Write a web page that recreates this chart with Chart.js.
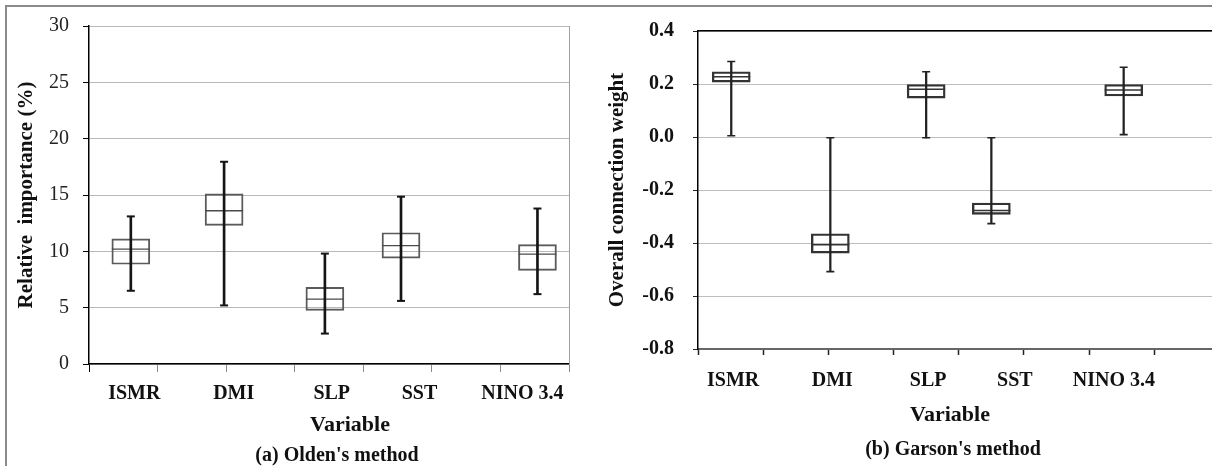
<!DOCTYPE html>
<html>
<head>
<meta charset="utf-8">
<script src="https://cdn.jsdelivr.net/npm/chart.js@4/dist/chart.umd.min.js"></script>
<style>
  html, body { margin:0; padding:0; width:1212px; height:466px; overflow:hidden; background:#fff; }
  #frame { position:absolute; left:5px; top:5px; width:1400px; height:600px;
           border-left:2px solid #8a8a8a; border-top:2px solid #8a8a8a; }
  #c1 { position:absolute; left:0; top:0; }
  #c2 { position:absolute; left:600px; top:0; }
  .t { position:absolute; font-family:'Liberation Serif','Times New Roman',serif; font-weight:bold;
       color:#111; white-space:nowrap; transform:translateX(-50%); line-height:1; }
</style>
</head>
<body>
<div id="frame"></div>
<canvas id="c1" width="600" height="466"></canvas>
<canvas id="c2" width="640" height="466"></canvas>
<div class="t" style="left:350px; top:413px; font-size:22px;">Variable</div>
<div class="t" style="left:337px; top:444px; font-size:20px;">(a) Olden's method</div>
<div class="t" style="left:950px; top:403px; font-size:22px;">Variable</div>
<div class="t" style="left:953px; top:438px; font-size:20px;">(b) Garson's method</div>
<script>
// ---------------- data ----------------
const categories = ['ISMR', 'DMI', 'SLP', 'SST', 'NINO 3.4'];

// (a) Olden's method: relative importance (%)
const oldenMin    = [6.5, 5.2, 2.7, 5.6, 6.2];
const oldenQ1     = [8.85, 12.3, 4.75, 9.4, 8.3];
const oldenMedian = [10.2, 13.6, 5.75, 10.5, 9.75];
const oldenQ3     = [11.1, 15.1, 6.8, 11.65, 10.6];
const oldenMax    = [13.1, 17.95, 9.8, 14.85, 13.8];
const oldenSlot      = [0.61, 1.97, 3.44, 4.55, 6.54];   // box location on the variable axis
const oldenLabelSlot = [0.66, 2.11, 3.54, 4.82, 6.32];   // label location on the variable axis
const oldenTicks = [0, 5, 10, 15, 20, 25, 30];

// (b) Garson's method: overall connection weight
const garsonMin    = [0.005, -0.508, -0.003, -0.327, 0.009];
const garsonQ1     = [0.207, -0.438, 0.147, -0.292, 0.155];
const garsonMedian = [0.227, -0.407, 0.180, -0.277, 0.177];
const garsonQ3     = [0.246, -0.365, 0.198, -0.249, 0.198];
const garsonMax    = [0.285, -0.003, 0.246, -0.003, 0.263];
const garsonSlot      = [0.51, 2.03, 3.50, 4.50, 6.53];
const garsonLabelSlot = [0.54, 2.06, 3.53, 4.86, 6.38];
const garsonTicks = [-0.8, -0.6, -0.4, -0.2, 0.0, 0.2, 0.4];

const slotTicks = [0, 1, 2, 3, 4, 5, 6, 7, 8];

Chart.defaults.font.family = "'Liberation Serif', 'Times New Roman', serif";
Chart.defaults.color = '#111';

function boxDatasets(slot, mn, q1, med, q3, mx, st) {
  return [
    { type:'bar', label:'box', order:3, grouped:false, barThickness:st.boxW,
      data: slot.map((x, i) => ({ x, y:[q1[i], q3[i]] })),
      backgroundColor:'rgba(0,0,0,0)', borderColor:st.boxColor, borderWidth:st.boxLW, borderSkipped:false,
      xAxisID:'x', yAxisID:'y' },
    { type:'bar', label:'whisker', order:1, grouped:false, barThickness:st.whiskW,
      data: slot.map((x, i) => ({ x, y:[mn[i], mx[i]] })),
      backgroundColor:st.whiskColor, borderWidth:0, xAxisID:'x', yAxisID:'y' },
    { type:'scatter', label:'caps', order:0, showLine:false,
      data: slot.map((x, i) => ({ x, y:mx[i] })).concat(slot.map((x, i) => ({ x, y:mn[i] }))),
      pointStyle:'line', pointRadius:st.capR, pointHoverRadius:st.capR,
      borderColor:st.whiskColor, borderWidth:st.capLW, xAxisID:'x', yAxisID:'y' },
    { type:'scatter', label:'median', order:2, showLine:false,
      data: slot.map((x, i) => ({ x, y:med[i] })),
      pointStyle:'line', pointRadius:st.boxW / 2, pointHoverRadius:st.boxW / 2,
      borderColor:st.medColor, borderWidth:st.medLW, xAxisID:'x', yAxisID:'y' }
  ];
}

function setTicks(arr) { return s => { s.ticks = arr.map(v => ({ value:v })); }; }

// ---------------- (a) Olden ----------------
new Chart(document.getElementById('c1'), {
  type:'bar',
  data:{ datasets: boxDatasets(oldenSlot, oldenMin, oldenQ1, oldenMedian, oldenQ3, oldenMax,
    { boxW:38, boxColor:'#5a5a5a', boxLW:1.3, whiskW:2, whiskColor:'#151515', capR:4, capLW:2,
      medColor:'#4a4a4a', medLW:1.3 }) },
  options:{
    responsive:false, animation:false, events:[],
    layout:{ padding:{ left:0, right:31, top:19, bottom:0 } },
    plugins:{ legend:{ display:false }, tooltip:{ enabled:false } },
    scales:{
      x:{ type:'linear', axis:'x', position:'bottom', min:0, max:7, offset:false, weight:0,
          afterBuildTicks: setTicks(slotTicks.slice(0, 8)),
          ticks:{ display:false },
          grid:{ offset:false, drawOnChartArea:false, drawTicks:true, tickLength:8, tickWidth:1,
                 tickColor: c => c.index === 0 ? '#000' : '#8c8c8c' },
          border:{ color:'#000', width:1.5 },
          afterFit: s => { s.height = 8; } },
      xl:{ type:'linear', axis:'x', position:'bottom', min:0, max:7, offset:false, weight:1,
           afterBuildTicks: setTicks(oldenLabelSlot),
           ticks:{ autoSkip:false, maxRotation:0, minRotation:0, padding:10, color:'#111',
                   font:{ size:20, weight:'bold' }, callback:(v, i) => categories[i] },
           grid:{ display:false, drawTicks:false, offset:false }, border:{ display:false },
           afterFit: s => { s.height = 94; } },
      y:{ type:'linear', position:'left', min:0, max:30,
          afterBuildTicks: setTicks(oldenTicks),
          ticks:{ padding:14, color:'#222', font:{ size:20 } },
          grid:{ color:'#b8b8b8', lineWidth:1, tickLength:6, tickColor:'#000', drawTicks:true },
          border:{ color:'#000', width:1.5 },
          title:{ display:true, text:'Relative  importance (%)', color:'#111',
                  font:{ size:21, weight:'bold' }, padding:{ top:14, bottom:0 } },
          afterFit: s => { s.width = 89; } },
      yr:{ type:'linear', axis:'y', position:'right', min:0, max:30,
           ticks:{ display:false }, grid:{ display:false, drawTicks:false },
           border:{ color:'#a0a0a0', width:1 },
           afterFit: s => { s.width = 0; } }
    }
  }
});

// ---------------- (b) Garson ----------------
new Chart(document.getElementById('c2'), {
  type:'bar',
  data:{ datasets: boxDatasets(garsonSlot, garsonMin, garsonQ1, garsonMedian, garsonQ3, garsonMax,
    { boxW:38, boxColor:'#333', boxLW:1.7, whiskW:1.6, whiskColor:'#222', capR:4, capLW:1.6,
      medColor:'#333', medLW:1.5 }) },
  options:{
    responsive:false, animation:false, events:[],
    layout:{ padding:{ left:0, right:10, top:28, bottom:0 } },
    plugins:{ legend:{ display:false }, tooltip:{ enabled:false } },
    scales:{
      x:{ type:'linear', axis:'x', position:'bottom', min:0, max:8, offset:false, weight:0,
          afterBuildTicks: setTicks(slotTicks),
          ticks:{ display:false },
          grid:{ offset:false, drawOnChartArea:false, drawTicks:true, tickLength:6, tickWidth:1.5,
                 tickColor:'#222' },
          border:{ color:'#666', width:2 },
          afterFit: s => { s.height = 6; } },
      xl:{ type:'linear', axis:'x', position:'bottom', min:0, max:8, offset:false, weight:1,
           afterBuildTicks: setTicks(garsonLabelSlot),
           ticks:{ autoSkip:false, maxRotation:0, minRotation:0, padding:14, color:'#111',
                   font:{ size:20, weight:'bold' }, callback:(v, i) => categories[i] },
           grid:{ display:false, drawTicks:false, offset:false }, border:{ display:false },
           afterFit: s => { s.height = 111; } },
      xtop:{ type:'linear', axis:'x', position:'top', min:0, max:8, offset:false,
             ticks:{ display:false }, grid:{ display:false, drawTicks:false, offset:false },
             border:{ color:'#000', width:1.5 },
             afterFit: s => { s.height = 0; } },
      y:{ type:'linear', position:'left', min:-0.8, max:0.4,
          afterBuildTicks: setTicks(garsonTicks),
          ticks:{ padding:19, color:'#111', font:{ size:20, weight:'bold' },
                  callback: v => (Math.abs(v) < 1e-9 ? 0 : v).toFixed(1) },
          grid:{ color:'#7a7a7a', lineWidth:1, tickLength:5, tickColor:'#222', drawTicks:true },
          border:{ color:'#000', width:1.5, dash:[1, 1] },
          title:{ display:true, text:'Overall connection weight', color:'#111',
                  font:{ size:21, weight:'bold' }, padding:{ top:4.5, bottom:0 } },
          afterFit: s => { s.width = 98; } }
    }
  }
});
</script>
</body>
</html>
